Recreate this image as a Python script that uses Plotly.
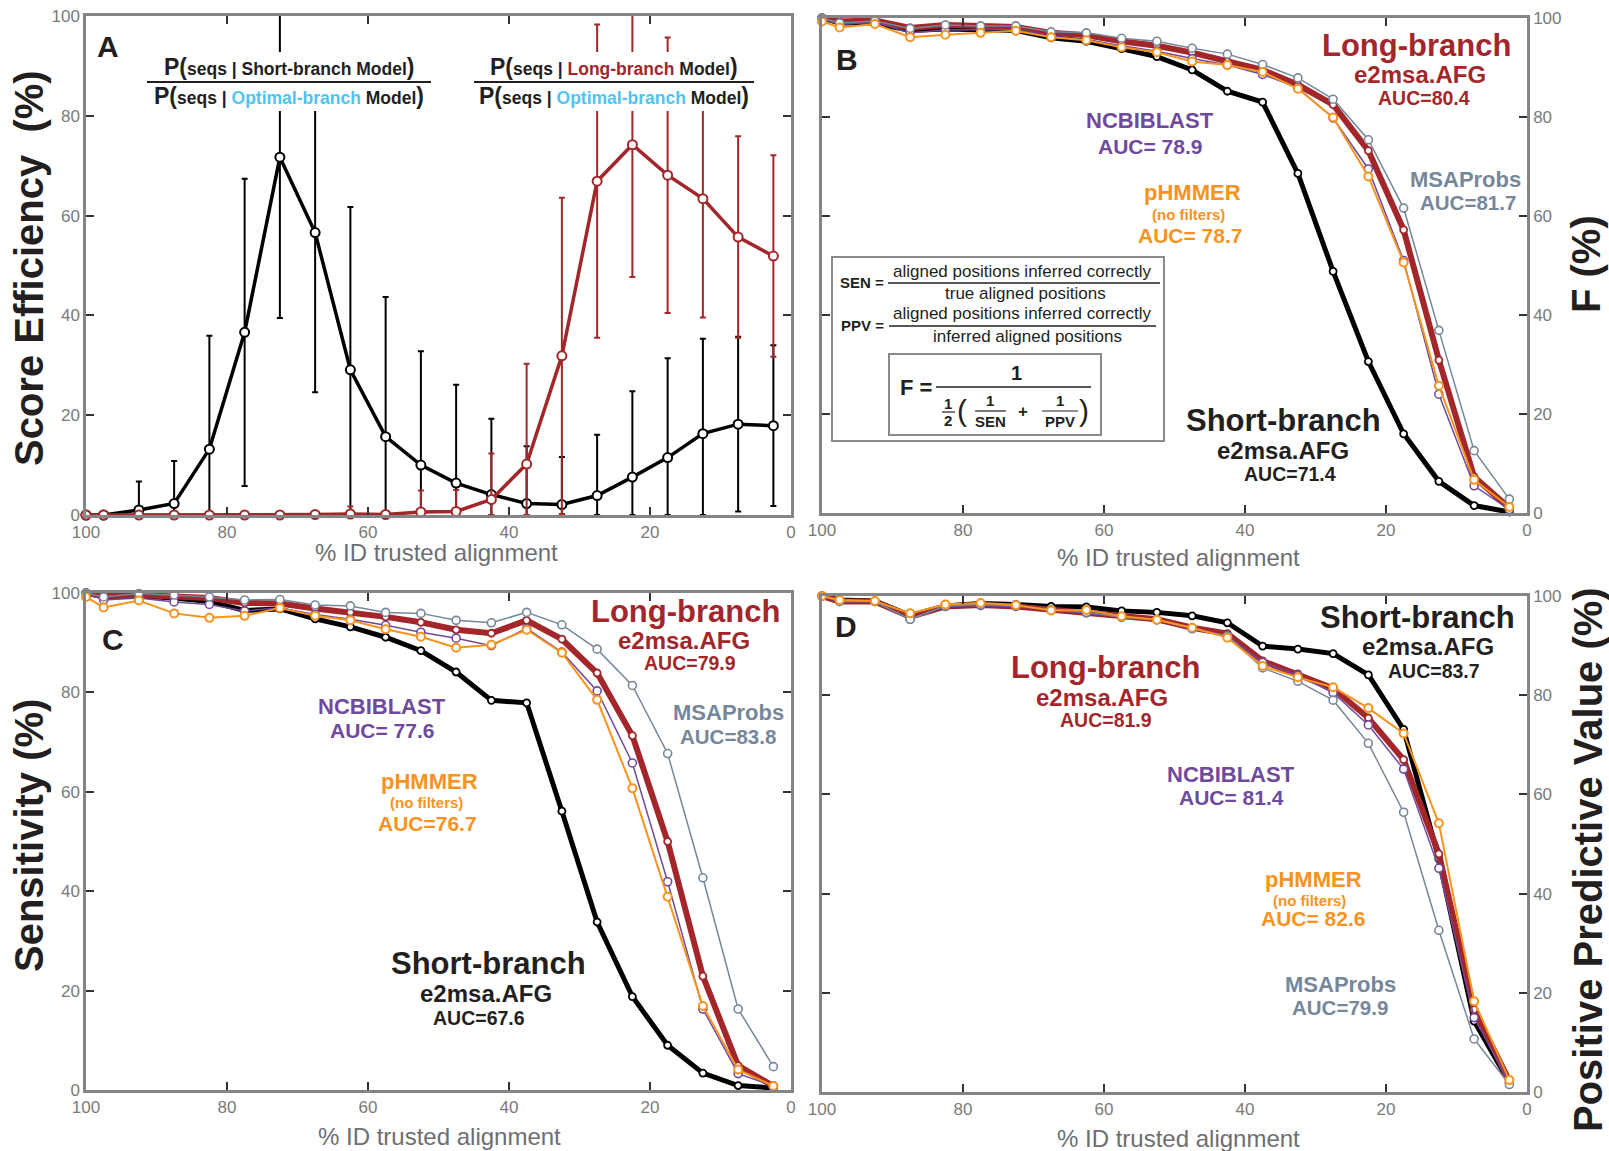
import plotly.graph_objects as go

W, H = 1609, 1151
FONT = "Liberation Sans, Arial, sans-serif"

# ---------------- data ----------------
pct_id = [100, 97.5, 92.5, 87.5, 82.5, 77.5, 72.5, 67.5, 62.5, 57.5, 52.5,
          47.5, 42.5, 37.5, 32.5, 27.5, 22.5, 17.5, 12.5, 7.5, 2.5]
x_ticks = [100, 80, 60, 40, 20, 0]
y_ticks = [0, 20, 40, 60, 80, 100]

# Panel A: score efficiency
a_short = [0, 0, 1.0, 2.3, 13.2, 36.6, 71.7, 56.6, 29.1, 15.7, 10.0,
           6.4, 4.1, 2.3, 2.1, 3.9, 7.6, 11.5, 16.3, 18.2, 17.9]
a_short_err_up = [0, 0, 5.7, 8.5, 22.7, 30.8, 34.0, 32.0, 32.6, 28.0, 22.8,
                  19.7, 15.2, 11.5, 9.5, 12.2, 17.2, 19.9, 19.0, 17.5, 16.1]
a_short_err_dn = [0, 0, 1.0, 2.3, 13.2, 30.8, 32.2, 32.0, 29.1, 15.7, 10.0,
                  6.4, 4.1, 2.3, 2.1, 3.9, 7.6, 11.5, 16.3, 17.5, 16.1]
a_long = [0, 0, 0, 0, 0, 0, 0, 0.1, 0.2, 0.1, 0.6,
          0.7, 3.1, 10.2, 31.9, 66.9, 74.2, 68.1, 63.4, 55.7, 51.9]
a_long_err_up = [0, 0, 0, 0, 0, 0, 0, 0.5, 1.5, 0, 4.3,
                 4.3, 9.2, 20.1, 31.7, 31.4, 26.5, 27.6, 23.8, 20.2, 20.2]
a_long_err_dn = [0, 0, 0, 0, 0, 0, 0, 0.1, 0.2, 0, 0.6,
                 0.7, 3.1, 10.2, 31.7, 31.4, 26.5, 27.6, 23.8, 20.2, 20.2]

# Panel B: F (%)
b_short = [100, 99.0, 99.0, 97.5, 97.8, 97.6, 97.5, 96.0, 95.3, 93.8, 92.2,
           89.5, 85.2, 83.0, 68.6, 48.8, 30.6, 16.0, 6.4, 1.5, 0.2]
b_long = [100, 99.3, 99.5, 98.0, 98.6, 98.3, 98.2, 97.0, 96.5, 95.3, 94.4,
          93.0, 91.2, 89.5, 86.5, 82.5, 73.2, 57.2, 30.9, 7.3, 1.0]
b_ncbi = [100, 98.7, 99.2, 97.0, 97.6, 97.6, 97.7, 96.3, 95.6, 94.4, 93.3,
          91.8, 90.5, 88.6, 85.9, 79.8, 69.5, 51.0, 24.0, 5.5, 0.7]
b_phmmer = [99.3, 98.1, 98.8, 96.1, 96.6, 97.0, 97.4, 96.1, 95.5, 94.1, 93.1,
            91.2, 90.5, 89.1, 85.7, 79.9, 68.0, 50.6, 25.7, 6.7, 1.2]
b_msa = [100, 99.0, 99.4, 97.9, 98.6, 98.4, 98.4, 97.2, 97.0, 95.9, 95.3,
         93.9, 92.7, 90.6, 87.9, 83.6, 75.4, 61.6, 36.9, 12.6, 2.8]

# Panel C: sensitivity
c_short = [100, 99.2, 99.4, 99.0, 98.3, 96.5, 96.8, 94.8, 93.2, 91.1, 88.4,
           84.1, 78.4, 77.9, 56.1, 33.8, 18.8, 9.0, 3.4, 0.9, 0.4]
c_long = [100, 99.4, 99.6, 99.4, 99.0, 98.0, 97.9, 96.9, 96.1, 95.2, 94.1,
          92.6, 91.9, 94.5, 90.7, 83.9, 71.3, 50.0, 22.9, 4.9, 0.8]
c_ncbi = [100, 98.6, 99.0, 98.2, 97.7, 96.4, 97.0, 95.7, 94.7, 93.5, 92.1,
          90.9, 89.4, 92.9, 88.1, 80.3, 65.8, 41.9, 16.3, 3.3, 0.8]
c_phmmer = [99.2, 97.1, 98.5, 95.9, 95.0, 95.4, 97.0, 95.4, 94.5, 92.7, 91.2,
            89.0, 89.6, 92.6, 88.0, 78.5, 60.7, 38.9, 16.9, 4.1, 0.8]
c_msa = [100, 99.2, 99.9, 99.6, 99.2, 98.6, 98.7, 97.6, 97.4, 96.1, 95.9,
         94.5, 94.0, 96.1, 93.6, 88.7, 81.4, 67.7, 42.7, 16.3, 4.7]

# Panel D: positive predictive value
d_short = [100, 99.2, 99.0, 96.1, 98.0, 98.5, 98.3, 97.9, 97.8, 97.0, 96.7,
           96.0, 94.6, 89.9, 89.3, 88.4, 84.1, 73.1, 47.0, 14.3, 1.9]
d_long = [100, 98.9, 98.9, 95.8, 97.9, 98.2, 97.9, 97.2, 96.8, 95.8, 95.3,
          93.6, 92.4, 86.9, 84.3, 81.4, 75.4, 67.0, 48.0, 16.6, 2.2]
d_ncbi = [100, 98.9, 98.9, 95.3, 97.9, 98.1, 97.9, 97.2, 96.6, 95.8, 95.2,
          93.5, 92.0, 86.6, 84.0, 80.5, 74.0, 65.1, 45.1, 15.0, 1.9]
d_phmmer = [100, 99.2, 99.0, 96.5, 98.3, 98.6, 98.2, 97.1, 97.2, 95.9, 95.2,
            93.6, 91.6, 85.9, 83.6, 81.6, 77.4, 72.3, 54.2, 18.3, 2.4]
d_msa = [100, 98.9, 98.9, 95.3, 98.0, 98.3, 98.0, 97.3, 96.7, 95.7, 95.2,
         93.4, 91.9, 85.5, 82.8, 79.0, 70.3, 56.4, 32.6, 10.7, 1.5]

# ---------------- styles ----------------
BLACK = "#000000"
RED = "#a3262a"
PURPLE = "#6f4a9c"
ORANGE = "#f7931e"
SLATE = "#76879a"
CYAN = "#4fc4f2"
DARK = "#231f20"
TICKGRAY = "#7a7a7a"
SPINE = "#858585"

fig = go.Figure()


def line_trace(y, color, width, xa, ya, msize=8, mline=2, err=None):
    tr = go.Scatter(
        x=pct_id, y=y, mode="lines+markers", xaxis=xa, yaxis=ya,
        line=dict(color=color, width=width),
        marker=dict(symbol="circle", size=msize, color="white",
                    line=dict(color=color, width=mline)),
        cliponaxis=False, showlegend=False, hoverinfo="skip")
    if err is not None:
        tr.error_y = dict(type="data", symmetric=False, array=err[0],
                          arrayminus=err[1], color=color, thickness=2, width=3)
    return tr


# Panel A
fig.add_trace(line_trace(a_short, BLACK, 3.5, "x", "y", msize=9,
                         err=(a_short_err_up, a_short_err_dn)))
fig.add_trace(line_trace(a_long, RED, 3.5, "x", "y", msize=9,
                         err=(a_long_err_up, a_long_err_dn)))

panels = [("x2", "y2", b_short, b_long, b_ncbi, b_msa, b_phmmer),
          ("x3", "y3", c_short, c_long, c_ncbi, c_msa, c_phmmer),
          ("x4", "y4", d_short, d_long, d_ncbi, d_msa, d_phmmer)]
for xa, ya, s, l, n, m, p in panels:
    fig.add_trace(line_trace(s, BLACK, 5, xa, ya, msize=7, mline=1.8))
    fig.add_trace(line_trace(l, RED, 6, xa, ya, msize=7, mline=1.8))
    fig.add_trace(line_trace(n, PURPLE, 1.5, xa, ya, msize=8, mline=1.6))
    fig.add_trace(line_trace(m, SLATE, 1.5, xa, ya, msize=8, mline=1.6))
    fig.add_trace(line_trace(p, ORANGE, 2, xa, ya, msize=8, mline=2))


def xaxis(x0, x1, anchor):
    return dict(domain=[x0 / W, x1 / W], anchor=anchor, range=[100, 0],
                tickvals=x_ticks, ticks="inside", ticklen=8, tickwidth=2,
                tickcolor="#333", showline=True, linecolor=SPINE, linewidth=2.5,
                mirror="ticks", showgrid=False, zeroline=False, automargin=False,
                tickfont=dict(family=FONT, size=17, color=TICKGRAY))


def yaxis(top, bot, anchor, side):
    return dict(domain=[1 - bot / H, 1 - top / H], anchor=anchor, range=[0, 100],
                tickvals=y_ticks, ticks="inside", ticklen=8, tickwidth=2,
                tickcolor="#333", showline=True, linecolor=SPINE, linewidth=2.5,
                mirror="ticks", showgrid=False, zeroline=False, side=side,
                automargin=False,
                tickfont=dict(family=FONT, size=17, color=TICKGRAY))


def ann(text, x, y, size, color, bold=True, xanchor="center", angle=0):
    return dict(text=(f"<b>{text}</b>" if bold else text), x=x / W, y=1 - y / H,
                xref="paper", yref="paper", showarrow=False, xanchor=xanchor,
                yanchor="middle", textangle=angle,
                font=dict(family=FONT, size=size, color=color))


def hline(x0, x1, y, width=2, color=DARK):
    return dict(type="line", xref="paper", yref="paper", x0=x0 / W, x1=x1 / W,
                y0=1 - y / H, y1=1 - y / H, line=dict(color=color, width=width),
                layer="above")


def rect(x0, y0, x1, y1, fill=None, line_color=None, width=2):
    return dict(type="rect", xref="paper", yref="paper", x0=x0 / W, x1=x1 / W,
                y0=1 - y1 / H, y1=1 - y0 / H,
                fillcolor=fill if fill else "rgba(0,0,0,0)",
                line=dict(color=line_color if line_color else "rgba(0,0,0,0)",
                          width=width if line_color else 0),
                layer="above")


shapes = [
    # white backgrounds behind the panel A fractions
    rect(145, 52, 433, 111, fill="white"),
    rect(472, 52, 756, 111, fill="white"),
    hline(147, 431, 82),
    hline(474, 754, 82),
    # formula box in panel B
    rect(832, 257, 1164, 441, line_color="#8a8a8a", width=2),
    rect(889, 354, 1101, 435, line_color="#8a8a8a", width=2),
    hline(888, 1160, 283, 1.5),
    hline(889, 1156, 326, 1.5),
    hline(936, 1091, 387, 1.5),
    hline(942, 955, 412, 1.2),
    hline(975, 1006, 411, 1.2),
    hline(1042, 1078, 411, 1.2),
]

B = "font-size:23px"
XT = "#6d6e71"
BIG, MID, SM = 31, 24, 19.5
annotations = [
    # Panel A
    ann("A", 108, 46, 30, DARK),
    ann(f"<span style='{B}'>P(</span>seqs | Short-branch Model<span style='{B}'>)</span>",
        289, 67, 17.5, DARK),
    ann(f"<span style='{B}'>P(</span>seqs | <span style='color:{CYAN}'>Optimal-branch</span> Model<span style='{B}'>)</span>",
        289, 96, 17.5, DARK),
    ann(f"<span style='{B}'>P(</span>seqs | <span style='color:{RED}'>Long-branch</span> Model<span style='{B}'>)</span>",
        614, 67, 17.5, DARK),
    ann(f"<span style='{B}'>P(</span>seqs | <span style='color:{CYAN}'>Optimal-branch</span> Model<span style='{B}'>)</span>",
        614, 96, 17.5, DARK),
    ann("Score Efficiency  (%)", 29, 268, 40, DARK, angle=-90),
    ann("% ID trusted alignment", 436, 553, 24, XT, bold=False),

    # Panel B
    ann("B", 847, 59, 30, DARK),
    ann("Long-branch", 1416, 45, BIG, RED),
    ann("e2msa.AFG", 1420, 74, MID, RED),
    ann("AUC=80.4", 1424, 98, SM, RED),
    ann("NCBIBLAST", 1150, 121, 22, PURPLE),
    ann("AUC= 78.9", 1150, 146, 21, PURPLE),
    ann("pHMMER", 1192, 192, 22, ORANGE),
    ann("(no filters)", 1188, 214, 15, ORANGE),
    ann("AUC= 78.7", 1190, 235, 21, ORANGE),
    ann("MSAProbs", 1465, 180, 22, SLATE),
    ann("AUC=81.7", 1468, 203, 20.5, SLATE),
    ann("Short-branch", 1283, 421, BIG, DARK),
    ann("e2msa.AFG", 1283, 450, MID, DARK),
    ann("AUC=71.4", 1290, 474, SM, DARK),
    ann("SEN =", 886, 282, 15, DARK, xanchor="right"),
    ann("aligned positions inferred correctly", 1022, 271, 17, DARK, bold=False),
    ann("true aligned positions", 1025, 293, 17, DARK, bold=False),
    ann("PPV =", 886, 325, 15, DARK, xanchor="right"),
    ann("aligned positions inferred correctly", 1022, 314, 17, DARK, bold=False),
    ann("inferred aligned positions", 1027, 336, 17, DARK, bold=False),
    ann("F =", 916, 387, 22, DARK),
    ann("1", 1016, 373, 20, DARK),
    ann("1", 948, 403, 15, DARK),
    ann("2", 948, 421, 15, DARK),
    ann("(", 962, 410, 30, DARK, bold=False),
    ann("1", 990, 400, 15, DARK),
    ann("SEN", 990, 422, 15, DARK),
    ann("+", 1023, 411, 17, DARK),
    ann("1", 1060, 400, 15, DARK),
    ann("PPV", 1060, 422, 15, DARK),
    ann(")", 1084, 410, 30, DARK, bold=False),
    ann("F (%)", 1586, 264, 40, DARK, angle=-90),
    ann("% ID trusted alignment", 1178, 557, 24, XT, bold=False),

    # Panel C
    ann("C", 113, 639, 30, DARK),
    ann("Long-branch", 685, 611, BIG, RED),
    ann("e2msa.AFG", 684, 640, MID, RED),
    ann("AUC=79.9", 690, 663, SM, RED),
    ann("NCBIBLAST", 382, 706, 22, PURPLE),
    ann("AUC= 77.6", 382, 730, 21, PURPLE),
    ann("pHMMER", 430, 781, 22, ORANGE),
    ann("(no filters)", 426, 802, 15, ORANGE),
    ann("AUC=76.7", 428, 823, 21, ORANGE),
    ann("MSAProbs", 728, 712, 22, SLATE),
    ann("AUC=83.8", 728, 736, 20.5, SLATE),
    ann("Short-branch", 488, 963, BIG, DARK),
    ann("e2msa.AFG", 486, 993, MID, DARK),
    ann("AUC=67.6", 479, 1018, SM, DARK),
    ann("Sensitivity (%)", 29, 836, 40, DARK, angle=-90),
    ann("% ID trusted alignment", 439, 1136, 24, XT, bold=False),

    # Panel D
    ann("D", 846, 626, 30, DARK),
    ann("Short-branch", 1417, 617, BIG, DARK),
    ann("e2msa.AFG", 1428, 646, MID, DARK),
    ann("AUC=83.7", 1434, 671, SM, DARK),
    ann("Long-branch", 1105, 667, BIG, RED),
    ann("e2msa.AFG", 1102, 697, MID, RED),
    ann("AUC=81.9", 1106, 720, SM, RED),
    ann("NCBIBLAST", 1231, 774, 22, PURPLE),
    ann("AUC= 81.4", 1231, 797, 21, PURPLE),
    ann("pHMMER", 1313, 879, 22, ORANGE),
    ann("(no filters)", 1309, 900, 15, ORANGE),
    ann("AUC= 82.6", 1313, 919, 21, ORANGE),
    ann("MSAProbs", 1340, 984, 22, SLATE),
    ann("AUC=79.9", 1340, 1007, 20.5, SLATE),
    ann("Positive Predictive Value (%)", 1588, 860, 40, DARK, angle=-90),
    ann("% ID trusted alignment", 1178, 1138, 24, XT, bold=False),
]

fig.update_layout(
    width=W, height=H, margin=dict(l=0, r=0, t=0, b=0, autoexpand=False),
    paper_bgcolor="white", plot_bgcolor="white", showlegend=False,
    font=dict(family=FONT),
    xaxis=xaxis(86, 791, "y"), yaxis=yaxis(16, 515, "x", "left"),
    xaxis2=xaxis(822, 1527, "y2"), yaxis2=yaxis(18, 513, "x2", "right"),
    xaxis3=xaxis(86, 791, "y3"), yaxis3=yaxis(593, 1090, "x3", "left"),
    xaxis4=xaxis(822, 1527, "y4"), yaxis4=yaxis(596, 1092, "x4", "right"),
    shapes=shapes, annotations=annotations,
)

fig.write_html("out.html")
